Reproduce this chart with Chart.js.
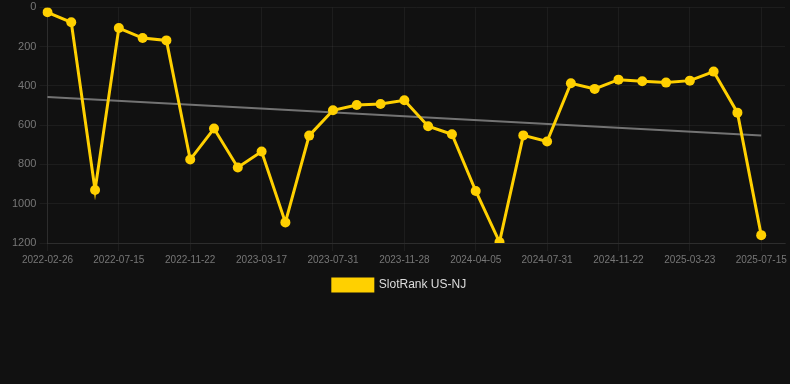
<!DOCTYPE html>
<html>
<head>
<meta charset="utf-8">
<script src="https://cdn.jsdelivr.net/npm/chart.js@4/dist/chart.umd.min.js"></script>
<style>
  html, body { margin: 0; padding: 0; background: #111111; }
  #wrap { width: 790px; height: 301px; position: relative; }
</style>
</head>
<body>
<div id="wrap"><canvas id="c"></canvas></div>
<script>
const labels = [
  "2022-02-26","2022-04-13","2022-05-30","2022-07-15","2022-08-28","2022-10-10",
  "2022-11-22","2023-01-08","2023-02-10","2023-03-17","2023-05-01","2023-06-15",
  "2023-07-31","2023-09-09","2023-10-19","2023-11-28","2024-01-10","2024-02-22",
  "2024-04-05","2024-05-14","2024-06-22","2024-07-31","2024-09-08","2024-10-15",
  "2024-11-22","2025-01-02","2025-02-11","2025-03-23","2025-05-01","2025-06-07",
  "2025-07-15","2025-08-22"
];
const rankValues = [
  25, 76, 930, 105, 156, 168, 775, 617, 815, 734, 1095, 653,
  524, 497, 492, 473, 605, 646, 935, 1195, 652, 683, 386, 415,
  368, 376, 383, 373, 327, 536, 1160, null
];
const trendValues = [456, null, null, null, null, null, null, null, null, null, null, null,
  null, null, null, null, null, null, null, null, null, null, null, null,
  null, null, null, null, null, null, 653, null];
const yTicks = [0, 200, 400, 600, 800, 1000, 1200];

Chart.defaults.font.family = "'Liberation Sans', Arial, Helvetica, sans-serif";

new Chart(document.getElementById('c'), {
  type: 'line',
  data: {
    labels: labels,
    datasets: [
      {
        label: 'SlotRank US-NJ',
        data: rankValues,
        borderColor: '#FFD000',
        backgroundColor: '#FFD000',
        borderWidth: 3,
        pointRadius: 5,
        pointBackgroundColor: '#FFD000',
        pointBorderWidth: 0,
        tension: 0
      },
      {
        label: 'trend',
        data: trendValues,
        borderColor: 'rgba(140,140,140,0.8)',
        borderWidth: 2,
        pointRadius: 0,
        spanGaps: true,
        tension: 0
      }
    ]
  },
  options: {
    responsive: true,
    maintainAspectRatio: false,
    animation: false,
    layout: { padding: { top: 0, left: 9 } },
    plugins: {
      legend: {
        position: 'bottom',
        labels: {
          color: '#dddddd',
          font: { size: 12 },
          boxWidth: 40,
          boxHeight: 12,
          filter: (item) => item.text !== 'trend'
        }
      },
      tooltip: { enabled: false }
    },
    scales: {
      x: {
        grid: { color: 'rgba(255,255,255,0.05)' },
        border: { color: 'rgba(255,255,255,0.08)' },
        ticks: {
          color: '#777777',
          font: { size: 10 },
          autoSkip: false,
          maxRotation: 0,
          callback: function(v, i) { return i % 3 === 0 ? labels[i] : null; }
        }
      },
      y: {
        reverse: true,
        min: 0,
        max: 1200,
        afterBuildTicks: (axis) => { axis.ticks = yTicks.map(v => ({ value: v })); },
        grid: { color: 'rgba(255,255,255,0.05)' },
        border: { color: 'rgba(255,255,255,0.08)' },
        ticks: { color: '#777777', font: { size: 11, lineHeight: 0.8 }, callback: (v) => String(v) }
      }
    }
  }
});
</script>
</body>
</html>
